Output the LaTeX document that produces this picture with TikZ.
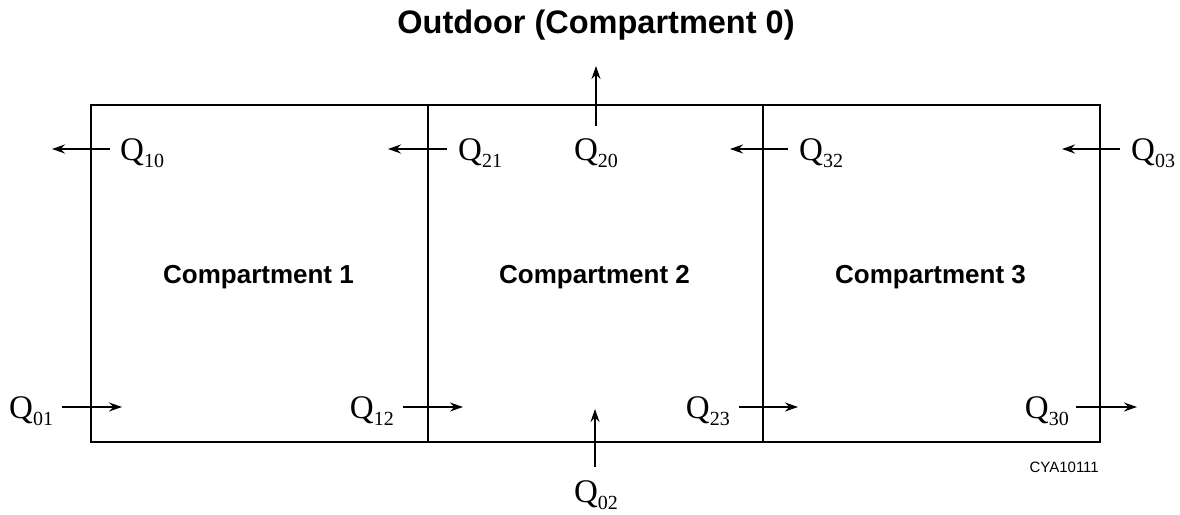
\documentclass[tikz,border=0pt]{standalone}
\usepackage{fontspec}
\setmainfont{Liberation Serif}
\setsansfont{Liberation Sans}
\usetikzlibrary{arrows.meta,positioning}
\newcommand{\flowQ}[1]{{\fontsize{33}{33}\selectfont Q}\raisebox{-7pt}{\fontsize{20}{20}\selectfont #1}}

\begin{document}
\begin{tikzpicture}[x=1pt,y=-1pt,>={Stealth[length=13pt,width=9pt]},
    wall/.style={line width=2pt},
    flow/.style={->,line width=1.3pt},
    qlabel/.style={inner sep=0pt,font=\rmfamily},
    roomname/.style={inner sep=0pt,font=\sffamily\bfseries\fontsize{26}{26}\selectfont}]
      \useasboundingbox (0,0) rectangle (1180,514);
      \coordinate (NW) at (91,105);
      \coordinate (SE) at (1100,442);
      \coordinate (W12t) at (428,105);
      \coordinate (W12b) at (428,442);
      \coordinate (W23t) at (763,105);
      \coordinate (W23b) at (763,442);
      \draw[wall] (NW) rectangle (SE);
      \draw[wall] (W12t)--(W12b);
      \draw[wall] (W23t)--(W23b);
      \node[inner sep=0pt,anchor=base,font=\sffamily\bfseries\fontsize{32.5}{32.5}\selectfont] (outdoor) at (596,33) {Outdoor (Compartment 0)};
      \node[roomname,anchor=base] (room1) at (258.5,283) {Compartment 1};
      \node[roomname,anchor=base] (room2) at (594.5,283) {Compartment 2};
      \node[roomname,anchor=base] (room3) at (930.5,283) {Compartment 3};
      % top row
      \coordinate (q10a) at (110,149);  \coordinate (q10b) at (52,149);
      \coordinate (q21a) at (447,149);  \coordinate (q21b) at (388,149);
      \coordinate (q32a) at (788,149);  \coordinate (q32b) at (730,149);
      \coordinate (q03a) at (1120,149); \coordinate (q03b) at (1062,149);
      \coordinate (q20a) at (596,126);  \coordinate (q20b) at (596,66);
      \draw[flow] (q10a)--(q10b);
      \draw[flow] (q21a)--(q21b);
      \draw[flow] (q32a)--(q32b);
      \draw[flow] (q03a)--(q03b);
      \draw[flow] (q20a)--(q20b);
      \node[qlabel,anchor=base west] (q10) at (120,160) {\flowQ{10}};
      \node[qlabel,anchor=base west] (q21) at (458,160) {\flowQ{21}};
      \node[qlabel,anchor=base west] (q32) at (799,160) {\flowQ{32}};
      \node[qlabel,anchor=base west] (q03) at (1131,160) {\flowQ{03}};
      \node[qlabel,anchor=base] (q20) at (596,160) {\flowQ{20}};
      % bottom row
      \coordinate (q01a) at (62,407);   \coordinate (q01b) at (122,407);
      \coordinate (q12a) at (403,407);  \coordinate (q12b) at (463,407);
      \coordinate (q23a) at (739,407);  \coordinate (q23b) at (798,407);
      \coordinate (q30a) at (1076,407); \coordinate (q30b) at (1137,407);
      \coordinate (q02a) at (595,467);  \coordinate (q02b) at (595,409);
      \draw[flow] (q01a)--(q01b);
      \draw[flow] (q12a)--(q12b);
      \draw[flow] (q23a)--(q23b);
      \draw[flow] (q30a)--(q30b);
      \draw[flow] (q02a)--(q02b);
      \node[qlabel,anchor=base west] (q01) at (9,418) {\flowQ{01}};
      \node[qlabel,anchor=base east] (q12) at (394,418) {\flowQ{12}};
      \node[qlabel,anchor=base east] (q23) at (730,418) {\flowQ{23}};
      \node[qlabel,anchor=base east] (q30) at (1069,418) {\flowQ{30}};
      \node[qlabel,anchor=base] (q02) at (596,502) {\flowQ{02}};
      \node[inner sep=0pt,anchor=base east,font=\sffamily\fontsize{15}{15}\selectfont] (figid) at (1099,472) {CYA10111};
    \end{tikzpicture}
\end{document}
